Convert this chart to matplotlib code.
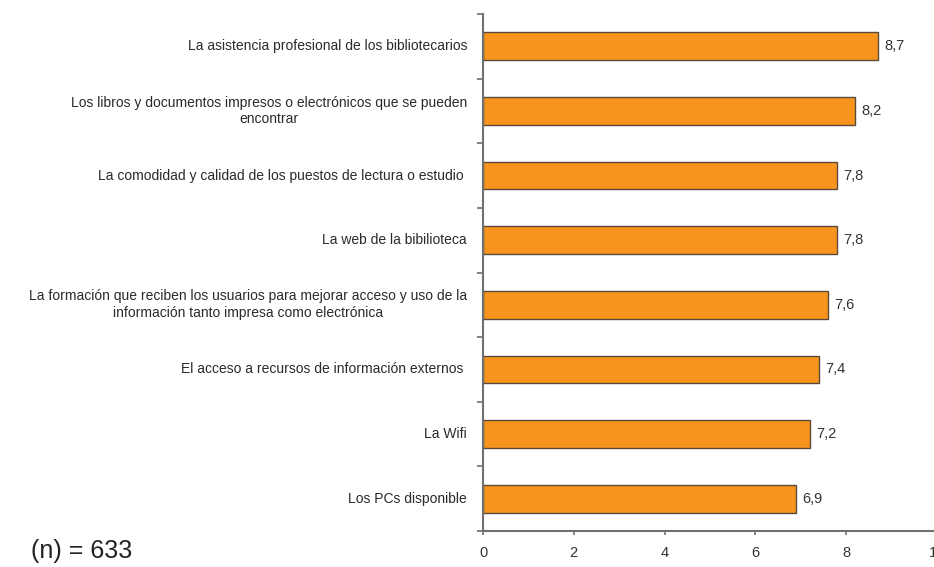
import matplotlib.pyplot as plt
import numpy as np

plt.rcParams['font.family'] = ['Liberation Sans', 'DejaVu Sans']

# items rated by library users (top to bottom)
items = [
    'La asistencia profesional de los bibliotecarios',
    'Los libros y documentos impresos o electrónicos que se pueden\nencontrar',
    'La comodidad y calidad de los puestos de lectura o estudio ',
    'La web de la bibilioteca',
    'La formación que reciben los usuarios para mejorar acceso y uso de la\ninformación tanto impresa como electrónica',
    'El acceso a recursos de información externos ',
    'La Wifi',
    'Los PCs disponible',
]
scores = [8.7, 8.2, 7.8, 7.8, 7.6, 7.4, 7.2, 6.9]
x_ticks = [0, 2, 4, 6, 8, 10]
n_total = 633

fig = plt.figure(figsize=(9.34, 5.67), dpi=100)
W, H = 934, 567
ax = fig.add_axes([483 / W, 36 / H, (937 - 483) / W, (531 - 14) / H])

y = np.arange(len(items))[::-1]
ax.barh(y, scores, height=0.43, color='#F7941D', edgecolor='#5a4a3a', linewidth=1.0)

for yi, v in zip(y, scores):
    ax.text(v + 0.13, yi, f'{v:.1f}'.replace('.', ','), va='center', ha='left',
            fontsize=10.5, color='#333333')

for yi, lab in zip(y, items):
    ax.text(-0.35, yi, lab, va='center', ha='right', multialignment='center',
            fontsize=10, color='#2a2a2a', linespacing=1.25, clip_on=False)

ax.set_xlim(0, 10)
ax.set_ylim(-0.5, len(items) - 0.5)
ax.set_xticks(x_ticks)
ax.set_xticklabels([str(t) for t in x_ticks], fontsize=10.5, color='#333333')
ax.set_yticks(np.arange(-0.5, len(items), 1.0))
ax.set_yticklabels([])
ax.tick_params(axis='y', direction='out', length=4, width=1.2, color='#707070')
ax.tick_params(axis='x', direction='out', length=3, width=1.2, color='#707070', pad=8)

for side in ['top', 'right']:
    ax.spines[side].set_visible(False)
for side in ['left', 'bottom']:
    ax.spines[side].set_color('#707070')
    ax.spines[side].set_linewidth(1.5)

fig.text(31 / W, 1 - 551 / H, f'(n) = {n_total}', fontsize=18, color='#222222',
         va='center', ha='left')

fig.savefig('out.png', dpi=100)
